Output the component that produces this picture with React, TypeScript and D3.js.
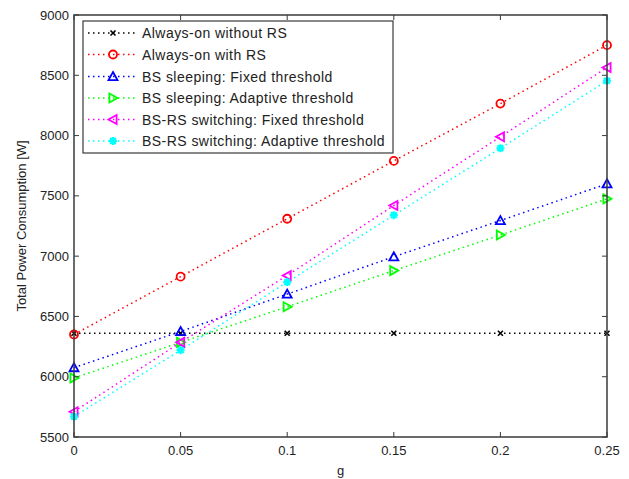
import React from "react";
import * as d3 from "d3";

const gValues = [0, 0.05, 0.1, 0.15, 0.2, 0.25];
const alwaysOnWithoutRS = [6360, 6360, 6360, 6360, 6360, 6360];
const alwaysOnWithRS = [6350, 6830, 7310, 7790, 8265, 8750];
const bsSleepFixed = [6075, 6375, 6685, 6995, 7295, 7600];
const bsSleepAdaptive = [5990, 6285, 6580, 6880, 7175, 7475];
const bsRsFixed = [5710, 6285, 6840, 7420, 7990, 8565];
const bsRsAdaptive = [5670, 6220, 6785, 7340, 7895, 8455];
const xTicks = [0, 0.05, 0.1, 0.15, 0.2, 0.25];
const yTicks = [5500, 6000, 6500, 7000, 7500, 8000, 8500, 9000];

const seriesNames = [
  "Always-on without RS",
  "Always-on with RS",
  "BS sleeping: Fixed threshold",
  "BS sleeping: Adaptive threshold",
  "BS-RS switching: Fixed threshold",
  "BS-RS switching: Adaptive threshold",
];
const seriesValues = [alwaysOnWithoutRS, alwaysOnWithRS, bsSleepFixed, bsSleepAdaptive, bsRsFixed, bsRsAdaptive];
const seriesColors = ["#000000", "#ff0000", "#0000ff", "#00ff00", "#ff00ff", "#00ffff"];
const seriesMarkers = ["x", "o", "^", ">", "<", "*"];

const W = 629, H = 479;
const L = 74, R = 607, T = 15, B = 437;
const FONT = "Liberation Sans, Arial, sans-serif";

function Marker({ type, x, y, color }: { type: string; x: number; y: number; color: string }) {
  const s = 4.5;
  const sw = 1.8;
  if (type === "x") {
    const a = 2.5;
    return <path d={`M${x - a},${y - a}L${x + a},${y + a}M${x - a},${y + a}L${x + a},${y - a}`} stroke={color} strokeWidth={1.6} fill="none" />;
  }
  if (type === "o") return <circle cx={x} cy={y} r={4} stroke={color} strokeWidth={sw} fill="none" />;
  if (type === "^") return <path d={`M${x},${y - s}L${x + s},${y + s * 0.8}L${x - s},${y + s * 0.8}Z`} stroke={color} strokeWidth={sw} fill="none" />;
  if (type === ">") return <path d={`M${x + s},${y}L${x - s * 0.8},${y - s}L${x - s * 0.8},${y + s}Z`} stroke={color} strokeWidth={sw} fill="none" />;
  if (type === "<") return <path d={`M${x - s},${y}L${x + s * 0.8},${y - s}L${x + s * 0.8},${y + s}Z`} stroke={color} strokeWidth={sw} fill="none" />;
  const a = 4;
  const d = 2.9;
  return (
    <path
      d={`M${x - a},${y}L${x + a},${y}M${x},${y - a}L${x},${y + a}M${x - d},${y - d}L${x + d},${y + d}M${x - d},${y + d}L${x + d},${y - d}`}
      stroke={color}
      strokeWidth={2.2}
      fill="none"
    />
  );
}

export default function App() {
  const x = d3.scaleLinear().domain([0, 0.25]).range([L, R]);
  const y = d3.scaleLinear().domain([5500, 9000]).range([B, T]);
  const line = d3.line<number>().x((_, i) => x(gValues[i])).y((v) => y(v));
  const axisColor = "#3a3a3a";
  const tick = 5;

  const legX = 83, legY = 21, legW = 310, legH = 132;
  const rowY = [33, 54.5, 76.5, 98, 119.5, 141];

  return (
    <svg width={W} height={H} style={{ position: "absolute", left: 0, top: 0, background: "#fff" }} fontFamily={FONT}>
      <rect x={0} y={0} width={W} height={H} fill="#fff" />
      {seriesValues.map((vals, k) => (
        <path key={"l" + k} d={line(vals) || ""} stroke={seriesColors[k]} strokeWidth={1.5} strokeDasharray="1.5,3.5" fill="none" />
      ))}
      {seriesValues.map((vals, k) =>
        vals.map((v, i) => <Marker key={"m" + k + "-" + i} type={seriesMarkers[k]} x={x(gValues[i])} y={y(v)} color={seriesColors[k]} />)
      )}
      <rect x={L} y={T} width={R - L} height={B - T} fill="none" stroke={axisColor} strokeWidth={1.5} />
      {xTicks.map((t) => (
        <g key={"xt" + t}>
          <line x1={x(t)} x2={x(t)} y1={B} y2={B - tick} stroke={axisColor} />
          <line x1={x(t)} x2={x(t)} y1={T} y2={T + tick} stroke={axisColor} />
          <text x={x(t)} y={B + 18} textAnchor="middle" fontSize={13} fill="#222">{String(t)}</text>
        </g>
      ))}
      {yTicks.map((t) => (
        <g key={"yt" + t}>
          <line x1={L} x2={L + tick} y1={y(t)} y2={y(t)} stroke={axisColor} />
          <line x1={R} x2={R - tick} y1={y(t)} y2={y(t)} stroke={axisColor} />
          <text x={L - 5} y={y(t) + 4.5} textAnchor="end" fontSize={13} fill="#222">{String(t)}</text>
        </g>
      ))}
      <text x={(L + R) / 2} y={B + 38} textAnchor="middle" fontSize={13} fill="#222">g</text>
      <text transform={`translate(26,${(T + B) / 2}) rotate(-90)`} textAnchor="middle" fontSize={13} fill="#222">Total Power Consumption [W]</text>
      <rect x={legX} y={legY} width={legW} height={legH} fill="#fff" stroke={axisColor} strokeWidth={1.2} />
      {seriesNames.map((name, k) => (
        <g key={"lg" + k}>
          <line x1={88} x2={138} y1={rowY[k]} y2={rowY[k]} stroke={seriesColors[k]} strokeWidth={1.5} strokeDasharray="1.5,3.5" />
          <Marker type={seriesMarkers[k]} x={113} y={rowY[k]} color={seriesColors[k]} />
          <text x={142} y={rowY[k] + 5} fontSize={14} letterSpacing={0.45} fill="#222">{name}</text>
        </g>
      ))}
    </svg>
  );
}
